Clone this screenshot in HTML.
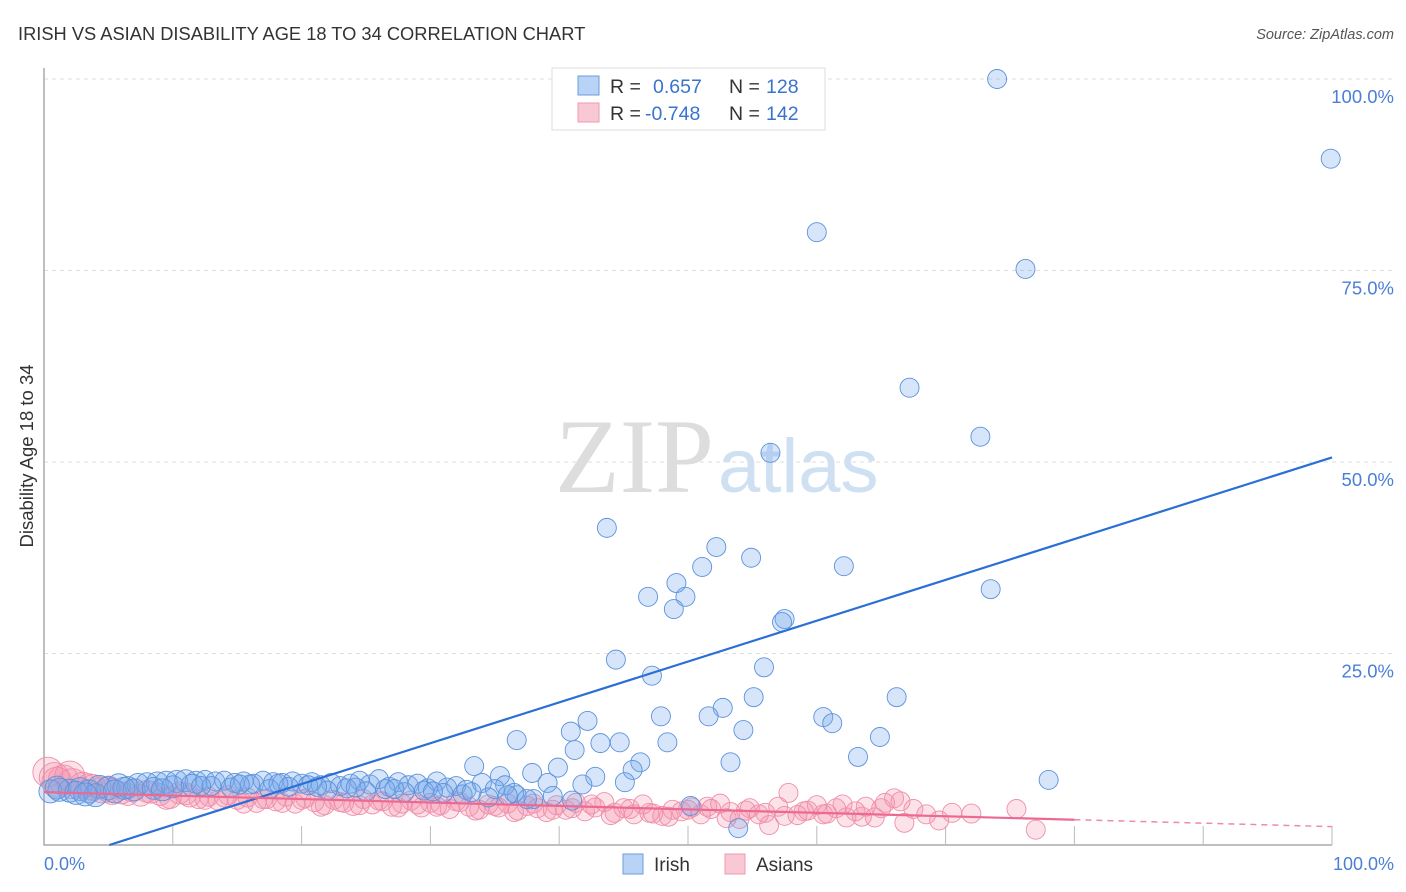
<!DOCTYPE html>
<html><head><meta charset="utf-8"><style>
body{margin:0;background:#fff;font-family:"Liberation Sans",sans-serif;}
svg{display:block}
</style></head><body>
<svg id="chart" width="1406" height="892" viewBox="0 0 1406 892" xmlns="http://www.w3.org/2000/svg">
<text x="18" y="40" font-size="18.3" fill="#333">IRISH VS ASIAN DISABILITY AGE 18 TO 34 CORRELATION CHART</text>
<text x="1394" y="39" font-size="14.5" fill="#555" font-style="italic" text-anchor="end">Source: ZipAtlas.com</text>
<text x="714" y="492" font-size="106" fill="#ddd" font-family="Liberation Serif,serif" text-anchor="end">ZIP</text>
<text x="718" y="492" font-size="76" fill="#cfe0f3">atlas</text>
<g id="grid"></g>
<g id="axes"></g>
<g id="pts"></g>
<g id="lines"></g>
<text transform="translate(33,456) rotate(-90)" font-size="18.5" fill="#333" text-anchor="middle">Disability Age 18 to 34</text>
<text x="44" y="870" font-size="18" fill="#4a7fd6">0.0%</text>
<text x="1394" y="870" font-size="18" fill="#4a7fd6" text-anchor="end">100.0%</text>
<g>
<rect x="552" y="68" width="273" height="62" fill="#fff" stroke="#ddd"/>
<rect x="578" y="76" width="21" height="19" fill="#b8d3f5" stroke="#6b9ee0"/>
<rect x="578" y="103" width="21" height="19" fill="#f9c8d5" stroke="#ee9ab2"/>
<text x="610" y="93" font-size="19.5" fill="#333">R =</text>
<text x="653" y="93" font-size="19.5" fill="#3a72d0">0.657</text>
<text x="729" y="93" font-size="19.5" fill="#333">N =</text>
<text x="766" y="93" font-size="19.5" fill="#3a72d0">128</text>
<text x="610" y="120" font-size="19.5" fill="#333">R =</text>
<text x="645" y="120" font-size="19.5" fill="#3a72d0">-0.748</text>
<text x="729" y="120" font-size="19.5" fill="#333">N =</text>
<text x="766" y="120" font-size="19.5" fill="#3a72d0">142</text>
</g>
<g>
<rect x="623" y="854" width="20" height="20" fill="#b8d3f5" stroke="#6b9ee0"/>
<text x="654" y="871" font-size="19" fill="#333">Irish</text>
<rect x="725" y="854" width="20" height="20" fill="#f9c8d5" stroke="#ee9ab2"/>
<text x="756" y="871" font-size="19" fill="#333">Asians</text>
</g>
</svg>
<script>
const yTicks=[25,50,75,100];
const yTickLabels=["25.0%","50.0%","75.0%","100.0%"];
const irishX=[74.0,99.9,60.0,76.2,67.2,72.7,56.4,43.7,52.2,54.9,51.1,62.1,49.1,46.9,49.8,48.9,73.5,57.5,57.3,44.4,55.9,47.2,55.1,66.2,52.7,42.2,47.9,51.6,60.5,61.2,40.9,54.3,36.7,43.2,44.7,48.4,64.9,41.2,33.4,46.3,53.3,63.2,35.4,37.9,39.9,45.7,42.8,78.0,39.1,41.8,45.1,50.2,53.9,36.7,35.8,
0.5,1.2,2.0,2.8,3.5,4.3,5.0,5.8,6.5,7.3,8.0,8.8,9.5,10.3,11.0,11.8,12.5,13.3,14.0,14.8,15.5,16.3,17.0,17.8,18.5,19.3,20.0,20.8,21.5,22.3,23.0,23.8,24.5,25.3,26.0,26.8,27.5,28.3,29.0,29.8,30.5,31.3,32.0,32.8,34.0,35.0,36.5,38.0,
1.0,2.5,4.0,5.5,7.0,8.5,10.0,11.5,13.0,14.5,16.0,17.5,19.0,20.5,22.0,23.5,25.0,26.5,28.0,29.5,31.0,32.5,34.5,36.0,37.5,39.5,41.0,3.2,6.2,9.2,12.2,15.2,18.2,21.2,24.2,27.2,30.2,33.2];
const irishY=[100,89.6,80.0,75.2,59.7,53.3,51.2,41.4,38.9,37.5,36.3,36.4,34.2,32.4,32.4,30.8,33.4,29.5,29.1,24.2,23.2,22.1,19.3,19.3,17.9,16.2,16.8,16.8,16.7,15.9,14.8,15.0,13.7,13.3,13.4,13.4,14.1,12.4,10.3,10.8,10.8,11.5,9.0,9.4,10.1,9.8,8.9,8.5,8.1,7.9,8.2,5.1,2.2,6.5,7.8,
7.0,7.2,7.1,7.3,7.0,7.6,7.4,7.8,7.5,7.9,8.0,8.1,8.2,8.3,8.4,8.2,8.5,8.3,8.4,8.1,8.3,8.0,8.4,8.2,8.1,8.3,8.0,8.2,7.8,8.1,7.7,8.0,8.4,7.9,8.6,7.6,8.2,7.8,8.0,7.4,8.3,7.5,7.7,7.2,8.1,7.3,6.8,6.0,
7.5,6.8,6.5,7.0,7.2,7.4,7.6,7.8,7.7,7.5,7.9,7.3,7.6,7.8,7.1,7.4,7.0,7.3,6.9,7.1,6.8,6.6,6.2,6.5,6.0,6.4,5.8,6.6,7.4,7.2,7.7,7.9,8.0,7.6,7.5,7.3,7.0,6.9];
const asianX=[0.3,0.8,1.5,2.2,3.0,3.8,4.5,5.3,6.0,6.8,7.5,8.3,9.0,9.8,10.5,11.3,12.0,12.8,13.5,14.3,15.0,15.8,16.5,17.3,18.0,18.8,19.5,20.3,21.0,21.8,22.5,23.3,24.0,24.8,25.5,26.3,27.0,27.8,28.5,29.3,30.0,30.8,31.5,32.3,33.0,33.8,34.5,35.3,36.0,36.8,37.5,38.3,39.0,39.8,40.5,41.3,42.0,42.8,43.5,44.3,45.0,45.8,46.5,47.3,48.0,48.8,49.5,50.3,51.0,51.8,52.5,53.3,54.0,54.8,55.5,56.3,57.0,57.8,58.5,59.3,60.0,60.8,61.5,62.3,63.0,63.8,64.5,65.3,66.0,66.8,67.5,68.5,69.5,70.5,72.0,75.5,77.0,
1.0,2.0,3.5,5.0,6.5,8.0,9.5,11.0,12.5,14.0,15.5,17.0,18.5,20.0,21.5,23.0,24.5,26.0,27.5,29.0,30.5,32.0,33.5,35.0,36.5,38.0,39.5,41.0,42.5,44.0,45.5,47.0,48.5,50.0,51.5,53.0,54.5,56.0,57.5,59.0,60.5,62.0,63.5,65.0,66.5];
const asianY=[9.5,8.8,8.5,8.0,7.8,7.5,7.2,7.0,6.8,7.1,6.5,6.9,6.6,6.2,6.8,6.4,6.0,6.3,5.8,6.5,5.9,6.2,5.5,6.0,5.7,6.3,5.4,6.1,5.6,5.2,5.9,5.5,5.1,6.0,5.3,5.7,5.0,5.4,5.8,4.9,5.5,5.2,4.7,5.6,5.0,4.6,5.3,4.9,5.4,4.5,5.1,4.8,4.3,5.2,4.6,5.5,4.4,4.9,5.6,4.2,4.8,4.0,5.3,4.1,3.8,4.6,4.4,4.9,4.0,4.7,5.4,4.3,3.4,4.8,4.0,2.6,5.0,6.8,3.9,4.5,5.2,4.1,4.8,3.6,4.4,5.0,3.6,5.5,6.1,2.9,4.7,4.0,3.2,4.2,4.1,4.7,2.0,
8.2,9.0,7.6,7.3,6.6,7.0,6.1,6.7,5.9,6.2,5.4,6.0,5.5,5.9,5.0,5.6,5.2,5.8,4.9,5.3,5.0,5.7,4.5,5.1,4.3,5.4,4.6,4.8,5.3,3.9,4.7,4.2,3.7,4.6,5.0,3.5,4.5,4.2,3.8,4.4,4.0,5.3,3.7,4.8,5.7];
const NS="http://www.w3.org/2000/svg";
const X0=44,X1=1332,Y0=845,Y1=79;
const xs=v=>X0+(X1-X0)*v/100;
const ys=v=>Y0-(Y0-Y1)*v/100;
function mk(tag,attrs,parent){const e=document.createElementNS(NS,tag);for(const k in attrs)e.setAttribute(k,attrs[k]);parent.appendChild(e);return e;}
const grid=document.getElementById('grid'),axes=document.getElementById('axes'),pts=document.getElementById('pts'),lines=document.getElementById('lines');
yTicks.forEach((t,i)=>{
 const l=mk('line',{x1:X0,x2:X1+62,y1:ys(t),y2:ys(t),stroke:'#ddd','stroke-dasharray':'4,4'},grid);
 
 
 const tx=mk('text',{x:1394,y:ys(t)+24,'font-size':18.5,fill:'#4a7fd6','text-anchor':'end'},grid);
 tx.textContent=yTickLabels[i];
 
 
});
const ax=mk('path',{d:`M${X0} 68 V${Y0} H${X1}`,stroke:'#aaa',fill:'none','stroke-width':1.5},axes);


for(let i=1;i<=10;i++){const x=xs(i*10);const t=mk('line',{x1:x,x2:x,y1:Y0-19,y2:Y0,stroke:'#bbb'},axes);
 
 }
function r(x){return x<3?15:(x<6?13:(x<12?11:9.5));}
asianX.forEach((x,i)=>{const c=mk('circle',{cx:xs(x),cy:ys(asianY[i]),r:r(x),fill:'rgba(242,140,168,0.25)',stroke:'#ef8fab','stroke-width':0.9},pts);
 
 });
irishX.forEach((x,i)=>{const c=mk('circle',{cx:xs(x),cy:ys(irishY[i]),r:r(x)>11?11.5:r(x),fill:'rgba(120,170,235,0.3)',stroke:'#5c92dc','stroke-width':0.9},pts);
 
 });
const iA=-2.7,iB=0.533;
const li=mk('line',{x1:xs(5.07),y1:ys(0),x2:xs(100),y2:ys(iA+iB*100),stroke:'#2a6fd6','stroke-width':2.2},lines);


const aA=6.9,aB=-0.045;
const la=mk('line',{x1:xs(0),y1:ys(aA),x2:xs(80),y2:ys(aA+aB*80),stroke:'#ec6a92','stroke-width':2.2},lines);


const ld=mk('line',{x1:xs(80),y1:ys(aA+aB*80),x2:xs(100),y2:ys(aA+aB*100),stroke:'#ec8aa8','stroke-width':1.5,'stroke-dasharray':'6,5'},lines);


</script>
</body></html>
